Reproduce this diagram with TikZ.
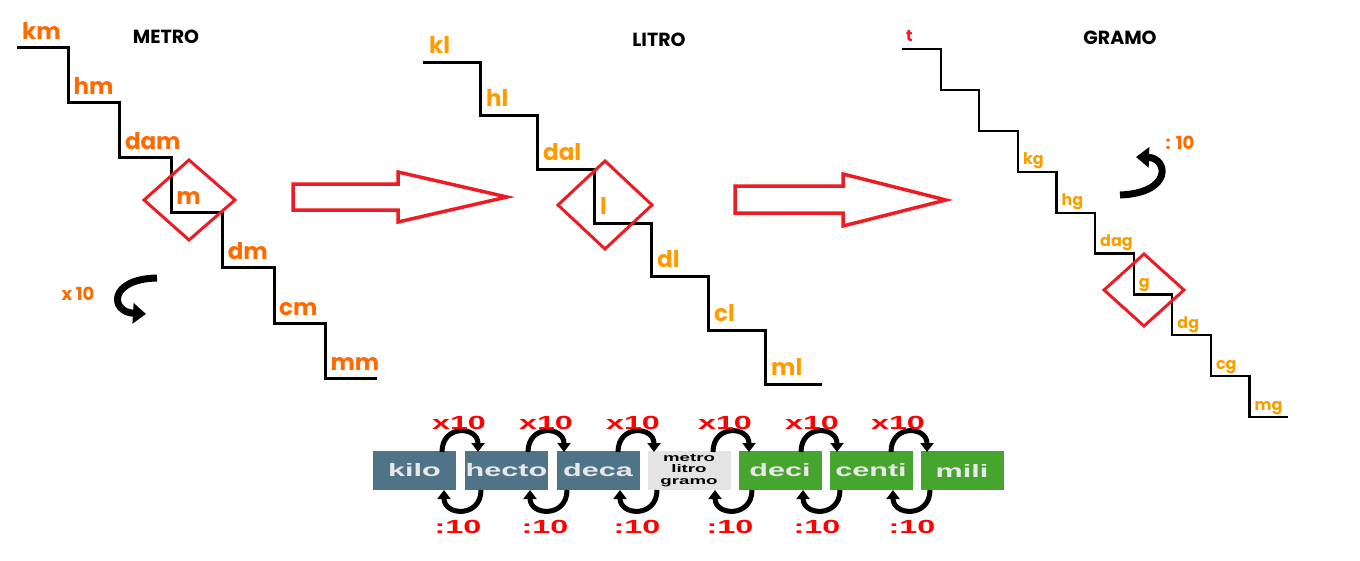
\documentclass[tikz,border=0pt]{standalone}
\usepackage{fontspec}
\usetikzlibrary{arrows.meta,calc}
\setmainfont{Poppins}
\newfontfamily\barfont[FakeStretch=1.7]{Liberation Sans}
\definecolor{paintred}{HTML}{ED1C24}
\definecolor{metroor}{HTML}{FF6A00}
\definecolor{litroor}{HTML}{FF9A00}
\definecolor{gramoor}{HTML}{F5A000}
\definecolor{slate}{HTML}{4F7488}
\definecolor{grass}{HTML}{45A52F}
\definecolor{ash}{HTML}{E4E4E4}
\definecolor{chalk}{HTML}{E8E8E8}
\tikzset{stair/.style={line width=3pt,line join=miter},unit/.style={anchor=base west,inner sep=0pt,font=\bfseries\fontsize{23}{23}\selectfont},small unit/.style={unit,font=\bfseries\fontsize{16}{16}\selectfont,text=gramoor},title/.style={font=\bfseries\fontsize{19}{19}\selectfont},factor/.style={text=metroor,font=\bfseries\fontsize{18}{18}\selectfont},pick/.style={draw=paintred,line width=3pt},bigarrow/.style={draw=paintred,line width=3.5pt,line join=miter},unitbox/.style={minimum width=83pt,minimum height=39pt,inner sep=0pt,font=\barfont\bfseries\fontsize{18}{18}\selectfont,text=chalk},rate/.style={text=red,font=\barfont\bfseries\fontsize{19}{19}\selectfont},curl/.style={line width=5pt,-{Triangle[length=9pt,width=13pt]}},bigcurl/.style={line width=7pt,-{Triangle[length=13pt,width=20pt]}}}
\begin{document}
\begin{tikzpicture}[x=1pt,y=-1pt]
\useasboundingbox (0,0) rectangle (1360,560);
% metro
\draw[stair] (17,47) foreach \i in {1,...,6}{ -- ++(51.4,0) -- ++(0,55.2)} -- ++(51.4,0);
\foreach \u [count=\i from 0] in {km,hm,dam,m,dm,cm,mm}{\node[unit,text=metroor] (\u) at (17+51.4*\i+5,47+55.2*\i-8) {\u};}
\node[title] (metro) at (166,37) {METRO};
\draw[pick] (144,200) -- (189,160) -- (235,200) -- (189,240) -- cycle;
\node[factor] (times) at (78,294) {x 10};
\draw[bigcurl] (157,278) .. controls (108,279) and (110,312) .. (146,314);
% litro
\draw[stair] (423,62) foreach \i in {1,...,6}{ -- ++(57,0) -- ++(0,53.7)} -- ++(57,0);
\foreach \u [count=\i from 0] in {kl,hl,dal,l,dl,cl,ml}{\node[unit,text=litroor] (\u) at (423+57*\i+6,62+53.7*\i-9) {\u};}
\node[title] (litro) at (659,40) {LITRO};
\draw[pick] (558,205) -- (605,161) -- (652,205) -- (605,249) -- cycle;
% gramo
\draw[stair,line width=2.2pt] (902,49) foreach \i in {1,...,9}{ -- ++(38.6,0) -- ++(0,40.9)} -- ++(38.6,0);
\node[small unit,text=paintred] (t) at (906,41) {t};
\foreach \u/\i in {kg/3,hg/4,dag/5,g/6,dg/7,cg/8,mg/9}{\node[small unit] (\u) at (902+38.6*\i+5,49+40.9*\i-7) {\u};}
\node[title] (gramo) at (1120,38) {GRAMO};
\draw[pick] (1104,290) -- (1144,254) -- (1184,290) -- (1144,326) -- cycle;
\node[factor] (split) at (1180,143) {: 10};
\draw[bigcurl] (1120,195) .. controls (1173,193) and (1168,158) .. (1136,157);
% red arrows
\draw[bigarrow] (293,184) -- (398,184) -- (398,172) -- (507,197) -- (398,222) -- (398,210) -- (293,210) -- cycle;
\draw[bigarrow] (735,186) -- (843,186) -- (843,174) -- (946,200) -- (843,226) -- (843,213) -- (735,213) -- cycle;
% prefix bar
\foreach \n/\xx/\col in {kilo/414.5/slate,hecto/506.5/slate,deca/598/slate,deci/780/grass,centi/871/grass,mili/962/grass}{\node[unitbox,fill=\col] (\n) at (\xx,470.5) {\n};}
\node[unitbox,fill=ash,text=black,align=center,font=\barfont\bfseries\fontsize{11}{11.5}\selectfont] (base) at (689,470.5) {metro\\litro\\gramo};
\foreach \cx/\tx/\bx [count=\i] in {461/459/458,547/546/545,637/633/637,732/725/730,820/812/817,910/898/912}{
\coordinate (up\i) at (\cx,452);
\coordinate (dn\i) at (\cx,490);
\draw[curl] ([xshift=-19pt]up\i) .. controls +(0,-28) and +(0,-26) .. ([xshift=17pt]up\i);
\draw[curl] ([xshift=20pt]dn\i) .. controls +(0,28) and +(0,26) .. ([xshift=-17pt]dn\i);
\node[rate] (x\i) at (\tx,423) {x10};
\node[rate] (d\i) at (\bx,527) {:10};}
\end{tikzpicture}
\end{document}
